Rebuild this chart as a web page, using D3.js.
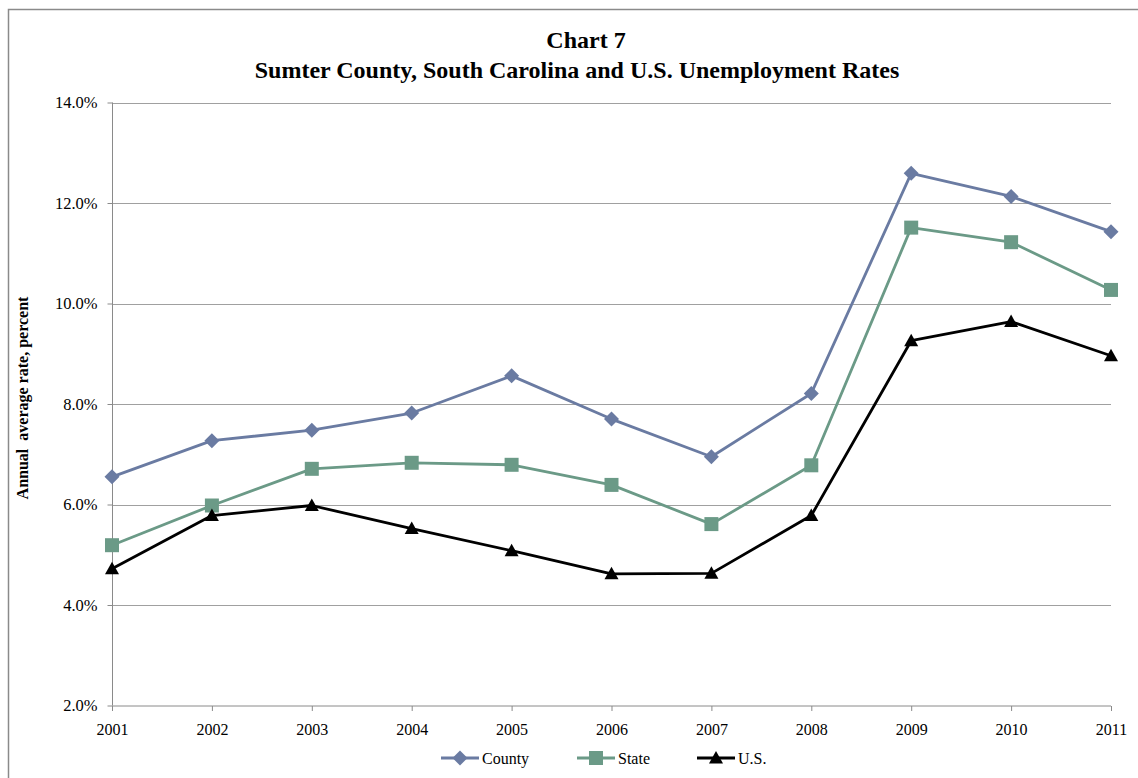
<!DOCTYPE html>
<html>
<head>
<meta charset="utf-8">
<script src="https://cdn.jsdelivr.net/npm/d3@7"></script>
<style>
  html, body { margin: 0; padding: 0; background: #fff; }
  svg { display: block; font-family: "Liberation Serif", "Times New Roman", serif; }
</style>
</head>
<body>
<svg id="chart" width="1138" height="778"></svg>
<script>
// Annual average unemployment rates (percent)
const years = ["2001","2002","2003","2004","2005","2006","2007","2008","2009","2010","2011"];
const county = [6.55, 7.27, 7.48, 7.82, 8.56, 7.70, 6.95, 8.21, 12.59, 12.13, 11.43];
const state  = [5.19, 5.98, 6.71, 6.83, 6.79, 6.39, 5.61, 6.78, 11.51, 11.22, 10.27];
const us     = [4.72, 5.78, 5.98, 5.52, 5.08, 4.62, 4.63, 5.78, 9.26, 9.64, 8.96];
const yTicks = [2, 4, 6, 8, 10, 12, 14];
const seriesNames = ["County", "State", "U.S."];

const series = [
  { name: seriesNames[0], values: county, color: "#6a7ba2", marker: "diamond" },
  { name: seriesNames[1], values: state,  color: "#6b9a87", marker: "square" },
  { name: seriesNames[2], values: us,     color: "#000000", marker: "triangle" }
];

const svg = d3.select("#chart");
const W = 1138, H = 778;

// outer chart frame
svg.append("rect")
  .attr("x", 8.5).attr("y", 9.5)
  .attr("width", W + 20).attr("height", H + 20)
  .attr("fill", "#fff").attr("stroke", "#8a8a8a").attr("stroke-width", 1.5);

const plot = { left: 112, right: 1111, top: 102.5, bottom: 705.5 };

const x = d3.scalePoint().domain(years).range([plot.left, plot.right]);
const y = d3.scaleLinear().domain([2, 14]).range([plot.bottom, plot.top]);

// title
svg.append("text")
  .attr("x", 586).attr("y", 48)
  .attr("text-anchor", "middle")
  .attr("font-size", 24).attr("font-weight", "bold")
  .text("Chart 7");
svg.append("text")
  .attr("x", 577).attr("y", 78)
  .attr("text-anchor", "middle")
  .attr("font-size", 24).attr("font-weight", "bold")
  .text("Sumter County, South Carolina and U.S. Unemployment Rates");

// horizontal gridlines
svg.append("g")
  .selectAll("line")
  .data(yTicks.filter(t => t > 2))
  .join("line")
  .attr("x1", plot.left).attr("x2", plot.right)
  .attr("y1", d => Math.round(y(d)) + 0.5).attr("y2", d => Math.round(y(d)) + 0.5)
  .attr("stroke", "#a0a0a0").attr("stroke-width", 1);

// y axis
const yAxis = svg.append("g")
  .attr("transform", `translate(${plot.left + 0.5},0)`)
  .call(d3.axisLeft(y).tickValues(yTicks).tickFormat(d => d.toFixed(1) + "%").tickSize(5).tickPadding(10));
yAxis.select(".domain").attr("stroke", "#8a8a8a").attr("d", `M0,${plot.top}V${plot.bottom}`);
yAxis.selectAll(".tick line").attr("stroke", "#8a8a8a");
yAxis.selectAll(".tick text")
  .attr("font-family", "Liberation Serif, Times New Roman, serif")
  .attr("font-size", 16.5).attr("fill", "#000");

// x axis
const xAxis = svg.append("g")
  .attr("transform", `translate(0,${plot.bottom + 0.5})`)
  .call(d3.axisBottom(x).tickSize(5).tickPadding(10));
xAxis.select(".domain").attr("stroke", "#8a8a8a").attr("d", `M${plot.left},0H${plot.right}`);
xAxis.selectAll(".tick line").attr("stroke", "#8a8a8a");
xAxis.selectAll(".tick text")
  .attr("font-family", "Liberation Serif, Times New Roman, serif")
  .attr("font-size", 16).attr("fill", "#000").attr("dy", "0.9em");

// y axis title
svg.append("text")
  .attr("transform", "translate(28,398) rotate(-90)")
  .attr("text-anchor", "middle")
  .attr("font-size", 16).attr("font-weight", "bold")
  .style("white-space", "pre")
  .text("Annual  average rate, percent");

// marker shapes
function markerPath(type) {
  if (type === "diamond") return "M0,-7.5L7.5,0L0,7.5L-7.5,0Z";
  if (type === "square") return "M-7,-7H7V7H-7Z";
  return "M0,-7L7,5.5H-7Z";
}

const line = d3.line().x((d, i) => x(years[i])).y(d => y(d));

series.forEach(s => {
  const g = svg.append("g");
  g.append("path")
    .datum(s.values)
    .attr("d", line)
    .attr("fill", "none")
    .attr("stroke", s.color)
    .attr("stroke-width", 2.8)
    .attr("stroke-linejoin", "round");
  g.selectAll("path.mk")
    .data(s.values)
    .join("path")
    .attr("class", "mk")
    .attr("transform", (d, i) => `translate(${x(years[i])},${y(d)})`)
    .attr("d", markerPath(s.marker))
    .attr("fill", s.color);
});

// legend
const legendItems = [
  { s: series[0], x0: 441 },
  { s: series[1], x0: 577 },
  { s: series[2], x0: 697 }
];
const ly = 758;
legendItems.forEach(({ s, x0 }) => {
  const g = svg.append("g");
  g.append("line")
    .attr("x1", x0).attr("x2", x0 + 38)
    .attr("y1", ly).attr("y2", ly)
    .attr("stroke", s.color).attr("stroke-width", 2.8);
  g.append("path")
    .attr("transform", `translate(${x0 + 19},${ly})`)
    .attr("d", markerPath(s.marker))
    .attr("fill", s.color);
  g.append("text")
    .attr("x", x0 + 41).attr("y", ly + 6)
    .attr("font-size", 16)
    .text(s.name);
});
</script>
</body>
</html>
